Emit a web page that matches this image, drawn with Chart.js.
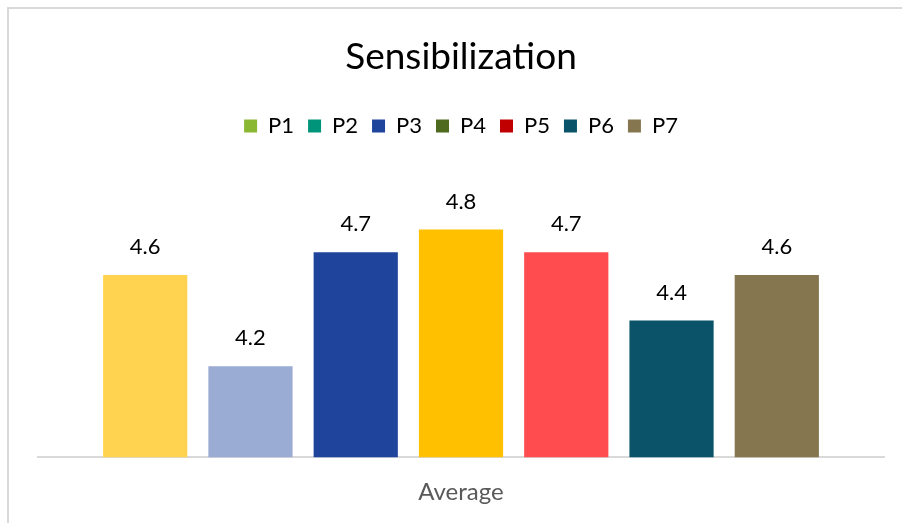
<!DOCTYPE html>
<html>
<head>
<meta charset="utf-8">
<script src="https://cdn.jsdelivr.net/npm/chart.js@4/dist/chart.umd.min.js"></script>
<style>
  html, body { margin: 0; padding: 0; background: #fff; overflow: hidden; }
  #wrap { position: relative; width: 902px; height: 523px; }
  #frame { position: absolute; left: 7px; top: 7px; width: 1000px; height: 1000px;
           border: 2px solid #d9d9d9; box-sizing: border-box; }
  canvas { position: absolute; left: 0; top: 0; }
</style>
</head>
<body>
<div id="wrap">
  <div id="frame"></div>
  <canvas id="c" width="902" height="523"></canvas>
</div>
<script>
const categories = ['Average'];
const seriesNames = ['P1', 'P2', 'P3', 'P4', 'P5', 'P6', 'P7'];
const seriesValues = [4.6, 4.2, 4.7, 4.8, 4.7, 4.4, 4.6];
const barColors = ['#FFD34F', '#9AACD4', '#1F449C', '#FFC000', '#FF4D4F', '#0A5369', '#857650'];
const legendColors = ['#8AB833', '#00957A', '#1F449C', '#4E6A1F', '#C00000', '#0A5369', '#857650'];

const FONT = 'Lato, "Open Sans", sans-serif';

// Value above each bar
const valueLabels = {
  id: 'valueLabels',
  afterDatasetsDraw(chart) {
    const ctx = chart.ctx;
    ctx.save();
    ctx.font = '22px ' + FONT;
    ctx.fillStyle = '#000';
    ctx.textAlign = 'center';
    ctx.textBaseline = 'middle';
    chart.data.datasets.forEach((ds, i) => {
      const meta = chart.getDatasetMeta(i);
      meta.data.forEach((bar, j) => {
        ctx.fillText(ds.data[j].toFixed(1), bar.x, bar.y - 28);
      });
    });
    ctx.restore();
  }
};

// Extra room between the legend row and the plot area
const legendGap = {
  id: 'legendGap',
  beforeInit(chart) {
    const origFit = chart.legend.fit;
    chart.legend.fit = function () {
      origFit.call(this);
      this.height += 37;
    };
  }
};

new Chart(document.getElementById('c'), {
  type: 'bar',
  data: {
    labels: categories,
    datasets: seriesNames.map((name, i) => ({
      label: name,
      data: [seriesValues[i]],
      backgroundColor: barColors[i],
      borderWidth: 0
    }))
  },
  options: {
    responsive: false,
    animation: false,
    layout: { padding: { left: 38, right: 18, top: 35, bottom: 3 } },
    datasets: { bar: { categoryPercentage: 0.871, barPercentage: 0.8 } },
    plugins: {
      title: {
        display: true,
        text: 'Sensibilization',
        color: '#000',
        font: { family: FONT, size: 37, weight: 'normal' },
        padding: { top: 0, bottom: 21.6 }
      },
      legend: {
        display: true,
        position: 'top',
        labels: {
          color: '#000',
          font: { family: FONT, size: 22 },
          boxWidth: 13,
          boxHeight: 13,
          padding: 14,
          generateLabels() {
            return seriesNames.map((name, i) => ({
              text: name,
              fillStyle: legendColors[i],
              strokeStyle: legendColors[i],
              lineWidth: 0,
              datasetIndex: i,
              hidden: false,
              fontColor: '#000'
            }));
          }
        }
      },
      tooltip: { enabled: false }
    },
    scales: {
      x: {
        grid: { display: false },
        border: { display: true, color: '#d9d9d9', width: 2 },
        ticks: { color: '#595959', font: { family: FONT, size: 24 }, padding: 13 }
      },
      y: {
        display: false,
        min: 3.8,
        max: 5.0
      }
    }
  },
  plugins: [valueLabels, legendGap]
});
</script>
</body>
</html>
